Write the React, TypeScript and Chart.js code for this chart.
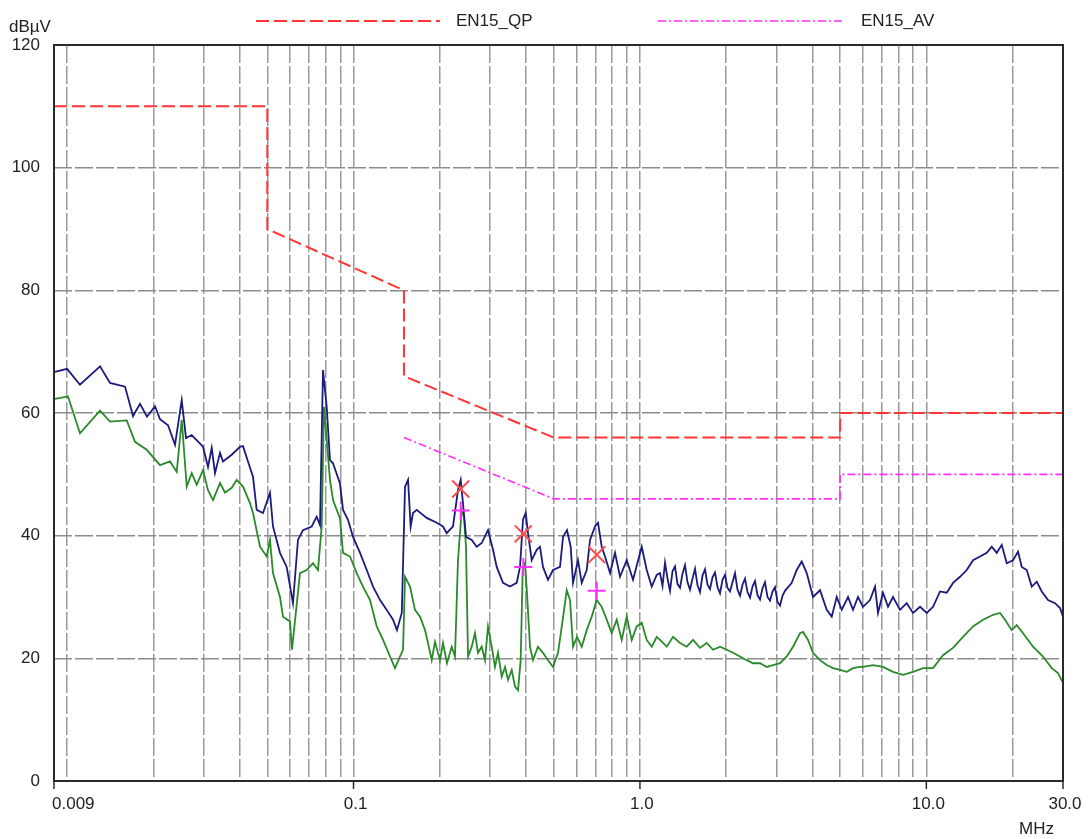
import { useEffect, useRef } from 'react';
import { Chart, registerables } from 'chart.js';

Chart.register(...registerables);

// ---------- data ----------
const qpLimitFreq = [0.009, 0.05, 0.05, 0.15, 0.15, 0.5, 5, 5, 30];
const qpLimitLevel = [110, 110, 90, 80, 66, 56, 56, 60, 60];
const avLimitFreq = [0.15, 0.5, 5, 5, 30];
const avLimitLevel = [56, 46, 46, 50, 50];

const qpMarkFreq = [0.2367, 0.3915, 0.7065];
const qpMarkLevel = [47.6, 40.3, 36.9];
const avMarkFreq = [0.2367, 0.3915, 0.7065];
const avMarkLevel = [44.1, 34.9, 31.0];

const gridFreq = [
  0.01, 0.02, 0.03, 0.04, 0.05, 0.06, 0.07, 0.08, 0.09,
  0.1, 0.2, 0.3, 0.4, 0.5, 0.6, 0.7, 0.8, 0.9,
  1, 2, 3, 4, 5, 6, 7, 8, 9,
  10, 20,
];
const xLabelFreq = [0.009, 0.1, 1, 10, 30];
const xLabelText = ['0.009', '0.1', '1.0', '10.0', '30.0'];
const yMin = 0;
const yMax = 120;
const yStep = 20;

const peakFreq = [
  0.00907, 0.0100, 0.01109, 0.01303, 0.01412, 0.01593, 0.01699, 0.01797, 0.01901, 0.02027,
  0.02110, 0.02251, 0.02381, 0.02513, 0.02601, 0.02723, 0.02982, 0.03104, 0.03198, 0.03284,
  0.03419, 0.03502, 0.03755, 0.04015, 0.04113, 0.04281, 0.04457, 0.04591, 0.04830, 0.05109,
  0.05234, 0.05537, 0.05843, 0.06146, 0.06398, 0.06661, 0.07145, 0.07438, 0.07638, 0.07824,
  0.08060, 0.08277, 0.08479, 0.08969,
  0.09190, 0.09567, 0.0996, 0.1054, 0.1112, 0.1170, 0.1238, 0.1306, 0.1374, 0.1418,
  0.1474, 0.1513, 0.1550, 0.1583, 0.1613, 0.1662, 0.1801, 0.1952, 0.2053, 0.2115,
  0.2225, 0.2316, 0.2367, 0.2411, 0.2470, 0.2586, 0.2692, 0.2803, 0.2948, 0.3069,
  0.3162, 0.3326, 0.3518, 0.3713, 0.3813, 0.3906, 0.3992, 0.4066, 0.4189, 0.4361,
  0.4478, 0.4587, 0.4776, 0.4972, 0.5260, 0.5389, 0.5564, 0.5732, 0.5839, 0.6079,
  0.6263, 0.6520, 0.6695, 0.6969, 0.7140, 0.7354, 0.7553, 0.7864, 0.8185, 0.8520,
  0.8993, 0.9460, 1.0145, 1.0561, 1.0995, 1.1446,
  1.1752, 1.1991, 1.2234, 1.2483, 1.2736, 1.2995, 1.3258, 1.3528, 1.3802, 1.4082,
  1.4368, 1.4660, 1.4957, 1.5261, 1.5571, 1.5887, 1.6209, 1.6538, 1.6874, 1.7217,
  1.7566, 1.7923, 1.8287, 1.8658, 1.9037, 1.9423, 1.9818, 2.0220, 2.0630, 2.1049,
  2.1476, 2.1912, 2.2357, 2.2811, 2.3274, 2.3746, 2.4228, 2.4720, 2.5222, 2.5734,
  2.6256, 2.6789, 2.7333, 2.7888, 2.8454, 2.9032, 2.9621, 3.0222, 3.0836, 3.1462,
  3.2100, 3.3882, 3.5271, 3.6718, 3.8224,
  4.0210, 4.2538, 4.4891, 4.6733, 4.8650, 5.0645, 5.3276, 5.5459, 5.7732, 6.0100,
  6.3579, 6.6186, 6.7800, 7.0581, 7.3476, 7.6490, 8.0917, 8.5393, 8.9830, 9.5071,
  10.032, 10.553, 11.163, 11.781, 12.393, 13.110, 13.836, 14.555, 15.397, 16.249,
  16.916, 17.610, 18.332, 19.083, 20.074, 20.899, 21.530, 22.414, 23.334, 24.291,
  25.288, 26.596, 28.136, 29.290, 30.0,
];
const peakLevel = [
  66.7, 67.2, 64.6, 67.6, 64.9, 64.3, 59.5, 61.5, 59.4, 61.1,
  59.0, 58.0, 54.8, 62.1, 55.9, 56.4, 54.5, 51.2, 54.3, 50.2,
  53.5, 52.1, 53.2, 54.5, 54.6, 52.1, 49.6, 44.2, 43.7, 47.0,
  41.5, 37.2, 34.9, 29.0, 39.3, 40.9, 41.5, 43.1, 41.7, 67.0,
  61.0, 52.3, 51.8, 48.5,
  44.2, 42.6, 39.8, 37.2, 34.4, 31.7, 29.5, 27.9, 26.3, 24.6,
  27.4, 48.0, 49.1, 41.5, 43.7, 44.2, 42.9, 42.1, 41.5, 40.4,
  41.5, 47.4, 49.1, 45.3, 39.8, 39.3, 38.2, 38.8, 40.9, 37.7,
  34.9, 32.3, 31.7, 32.3, 34.9, 42.6, 43.7, 40.4, 36.0, 37.7,
  38.2, 34.9, 32.8, 34.4, 34.9, 39.8, 40.9, 38.2, 32.3, 36.0,
  32.3, 34.4, 39.3, 41.5, 42.1, 38.2, 36.6, 33.9, 37.2, 33.3,
  36.0, 32.8, 38.2, 34.4, 31.7, 33.6,
  33.9, 31.8, 35.6, 33.0, 31.0, 34.2, 35.0, 32.1, 31.5, 33.8,
  35.2, 32.4, 31.2, 33.0, 34.6, 31.9, 30.8, 33.5, 34.5, 32.0,
  31.3, 33.2, 34.0, 31.6, 30.6, 32.8, 33.6, 31.5, 30.9, 32.4,
  33.9, 31.2, 30.2, 32.0, 33.0, 30.8, 29.9, 31.7, 32.6, 30.3,
  29.6, 31.4, 32.4, 30.0, 29.4, 30.9, 31.6, 29.2, 28.6, 30.2,
  31.0, 32.3, 34.4, 35.8, 33.9,
  30.0, 31.1, 27.9, 26.8, 30.0, 27.9, 30.0, 27.9, 30.0, 28.4,
  29.5, 31.7, 27.4, 30.7, 28.4, 30.0, 27.9, 29.0, 27.4, 28.4,
  27.4, 28.4, 30.9, 30.7, 32.3, 33.3, 34.4, 36.0, 36.6, 37.2,
  38.2, 37.2, 38.5, 35.5, 36.0, 37.4, 34.9, 34.4, 31.7, 32.5,
  30.9, 29.5, 29.0, 28.2, 26.8,
];

const avgFreq = [
  0.00907, 0.01007, 0.01109, 0.01303, 0.01412, 0.01615, 0.01726, 0.01897, 0.02110, 0.02287,
  0.02414, 0.02513, 0.02616, 0.02723, 0.02835, 0.02982, 0.03104, 0.03232, 0.03419, 0.03559,
  0.03755, 0.03910, 0.04113, 0.04350, 0.04457, 0.04715, 0.04975, 0.05109, 0.05234, 0.05537,
  0.05672, 0.06000, 0.06097, 0.06502, 0.06862, 0.07220, 0.07516, 0.07742, 0.07886, 0.08277,
  0.08479, 0.08969,
  0.09190, 0.09722, 0.1026, 0.1079, 0.1142, 0.1205, 0.1268, 0.1341, 0.1396, 0.1453,
  0.1489, 0.1513, 0.1575, 0.1639, 0.1707, 0.1777, 0.1820, 0.1875, 0.1925, 0.2004,
  0.2053, 0.2120, 0.2202, 0.2261, 0.2316, 0.2386, 0.2430, 0.2470, 0.2511, 0.2586,
  0.2655, 0.2720, 0.2803, 0.2878, 0.2948, 0.3037, 0.3118, 0.3195, 0.3292, 0.3380,
  0.3463, 0.3567, 0.3663, 0.3752, 0.3834, 0.3896, 0.3969, 0.4033, 0.4132, 0.4233,
  0.4406, 0.4587, 0.4776, 0.4972, 0.5176, 0.5376, 0.5551, 0.5700, 0.5839, 0.6031,
  0.6263, 0.6520, 0.6787, 0.7065, 0.7354, 0.7656, 0.7970, 0.8297, 0.8637, 0.8993,
  0.9362, 0.9745, 1.0145, 1.0561, 1.0995, 1.1446,
  1.1752, 1.2406, 1.3050, 1.3804, 1.4568, 1.5325, 1.6211, 1.7108, 1.7997, 1.9038,
  2.0091, 2.1135, 2.2358, 2.3597, 2.4823, 2.6260, 2.7713, 2.9154, 3.0842, 3.2547,
  3.4238, 3.6220, 3.7104, 3.8626, 4.0210, 4.2538, 4.4891, 4.7224, 4.9958, 5.2722,
  5.5459, 5.8669, 6.0100, 6.5130, 7.0581, 7.6490, 8.2891, 8.9830, 9.7387, 10.553,
  11.436, 12.393, 13.430, 14.555, 15.773, 17.094, 18.083, 18.824, 19.866, 20.681,
  21.757, 23.579, 25.553, 27.399, 28.823, 30.0,
];
const avgLevel = [
  62.3, 62.7, 56.7, 60.4, 58.6, 58.8, 55.3, 54.0, 51.5, 52.1,
  50.4, 58.9, 48.0, 50.2, 48.3, 50.7, 47.4, 45.8, 48.6, 47.0,
  47.8, 49.1, 48.0, 45.3, 43.7, 38.2, 36.6, 39.3, 33.9, 30.0,
  26.8, 26.0, 21.4, 33.9, 34.4, 35.5, 34.4, 41.5, 61.0, 49.1,
  45.8, 42.8,
  37.2, 36.6, 33.9, 31.7, 29.5, 25.2, 23.0, 20.3, 18.4, 20.3,
  21.4, 33.3, 31.7, 27.9, 26.8, 24.6, 22.5, 19.7, 22.7, 19.7,
  22.5, 19.2, 21.9, 20.3, 36.0, 44.2, 43.1, 38.2, 20.3, 21.9,
  24.1, 20.9, 21.9, 19.7, 25.2, 21.9, 18.6, 20.9, 17.0, 18.6,
  16.5, 18.1, 15.4, 14.8, 19.7, 34.4, 35.5, 30.7, 21.9, 19.7,
  21.9, 20.9, 19.7, 18.6, 20.9, 26.3, 31.1, 29.5, 21.9, 23.5,
  21.9, 24.6, 26.8, 29.5, 28.4, 26.3, 24.1, 26.3, 23.0, 26.8,
  23.0, 25.2, 25.8, 23.0, 21.9, 23.5,
  23.0, 21.9, 23.5, 22.5, 21.9, 23.0, 21.7, 22.5, 21.4, 21.9,
  21.4, 20.9, 20.3, 19.7, 19.2, 19.2, 18.6, 18.9, 19.2, 20.3,
  21.9, 24.1, 24.3, 23.0, 20.9, 19.7, 18.9, 18.4, 18.1, 17.8,
  18.4, 18.6, 18.6, 18.9, 18.6, 17.8, 17.3, 17.8, 18.4, 18.4,
  20.5, 21.7, 23.5, 25.2, 26.3, 27.1, 27.4, 26.3, 24.6, 25.4,
  24.1, 21.9, 20.3, 18.4, 17.6, 16.0,
];

// ---------- styles ----------
const FONT = '"Liberation Sans", Arial, Helvetica, sans-serif';
const TEXT_COLOR = '#222222';
const GRID_COLOR = '#9a9a9a';
const QP_COLOR = '#ff3535';
const AV_COLOR = '#ff30ff';
const QP_DASH = [13, 5];
const AV_DASH = [8, 3, 2, 3];

const pairs = (xs: number[], ys: number[]) => xs.map((x, i) => ({ x, y: ys[i] }));

const overlayPlugin = {
  id: 'emiOverlay',
  afterDraw(chart: any) {
    const { ctx, chartArea } = chart;
    const xs = chart.scales.x;
    const { left, top, right, bottom } = chartArea;
    ctx.save();
    // frame
    ctx.strokeStyle = '#2a2a2a';
    ctx.lineWidth = 2;
    ctx.setLineDash([]);
    ctx.strokeRect(left, top, right - left, bottom - top);
    // ticks + labels
    ctx.lineWidth = 1.5;
    ctx.font = `17px ${FONT}`;
    ctx.fillStyle = TEXT_COLOR;
    ctx.textBaseline = 'middle';
    xLabelFreq.forEach((f, i) => {
      const px = xs.getPixelForValue(f);
      ctx.beginPath();
      ctx.moveTo(px, bottom);
      ctx.lineTo(px, bottom + 8);
      ctx.stroke();
      ctx.textAlign = i === 0 ? 'left' : 'center';
      ctx.fillText(xLabelText[i], i === 0 ? px - 2 : px + 2, bottom + 23);
    });
    ctx.textAlign = 'left';
    ctx.fillText('MHz', right - 44, bottom + 48);
    ctx.fillText('dB\u00b5V', 9, 27);
    // legend
    const ly = 21;
    ctx.lineWidth = 2;
    ctx.strokeStyle = QP_COLOR;
    ctx.setLineDash(QP_DASH);
    ctx.beginPath();
    ctx.moveTo(256, ly);
    ctx.lineTo(440, ly);
    ctx.stroke();
    ctx.strokeStyle = AV_COLOR;
    ctx.lineWidth = 1.6;
    ctx.setLineDash(AV_DASH);
    ctx.beginPath();
    ctx.moveTo(658, ly);
    ctx.lineTo(842, ly);
    ctx.stroke();
    ctx.setLineDash([]);
    ctx.fillText('EN15_QP', 456, ly);
    ctx.fillText('EN15_AV', 861, ly);
    ctx.restore();
  },
};

export default function App() {
  const canvasRef = useRef<HTMLCanvasElement | null>(null);

  useEffect(() => {
    document.body.style.margin = '0';
    const canvas = canvasRef.current;
    if (!canvas) return;
    Chart.defaults.font.family = FONT;
    const chart = new Chart(canvas, {
      type: 'line',
      data: {
        datasets: [
          {
            type: 'scatter',
            label: 'QP marks',
            data: pairs(qpMarkFreq, qpMarkLevel),
            pointStyle: 'crossRot',
            pointRadius: 12,
            pointBorderWidth: 2,
            borderColor: '#ff4a4a',
            backgroundColor: '#ff4a4a',
            showLine: false,
            order: 0,
          } as any,
          {
            type: 'scatter',
            label: 'AV marks',
            data: pairs(avMarkFreq, avMarkLevel),
            pointStyle: 'cross',
            pointRadius: 9,
            pointBorderWidth: 2,
            borderColor: AV_COLOR,
            backgroundColor: AV_COLOR,
            showLine: false,
            order: 0,
          } as any,
          {
            label: 'EN15_QP',
            data: pairs(qpLimitFreq, qpLimitLevel),
            borderColor: QP_COLOR,
            borderWidth: 2,
            borderDash: QP_DASH,
            pointRadius: 0,
            tension: 0,
            fill: false,
            order: 1,
          },
          {
            label: 'EN15_AV',
            data: pairs(avLimitFreq, avLimitLevel),
            borderColor: AV_COLOR,
            borderWidth: 1.6,
            borderDash: AV_DASH,
            pointRadius: 0,
            tension: 0,
            fill: false,
            order: 1,
          },
          {
            label: 'Peak',
            data: pairs(peakFreq, peakLevel),
            borderColor: '#1b1b7e',
            borderWidth: 1.8,
            pointRadius: 0,
            tension: 0,
            fill: false,
            order: 2,
          },
          {
            label: 'Average',
            data: pairs(avgFreq, avgLevel),
            borderColor: '#2a8a2a',
            borderWidth: 1.8,
            pointRadius: 0,
            tension: 0,
            fill: false,
            order: 2,
          },
        ],
      },
      options: {
        animation: false,
        responsive: false,
        devicePixelRatio: 1,
        layout: { padding: { top: 45, right: 28, left: 0, bottom: 0 } },
        plugins: {
          legend: { display: false },
          tooltip: { enabled: false },
          title: { display: false },
        },
        scales: {
          x: {
            type: 'logarithmic',
            min: 0.009,
            max: 30,
            afterBuildTicks: (scale: any) => {
              scale.ticks = gridFreq.map((v) => ({ value: v }));
            },
            afterFit: (scale: any) => {
              scale.height = 58;
            },
            ticks: { display: false },
            grid: {
              color: GRID_COLOR,
              lineWidth: 1.5,
              drawTicks: false,
            },
            border: { display: false, dash: [18, 3] },
          },
          y: {
            type: 'linear',
            min: yMin,
            max: yMax,
            afterFit: (scale: any) => {
              scale.width = 54;
            },
            ticks: {
              stepSize: yStep,
              padding: 14,
              color: TEXT_COLOR,
              font: { size: 17, family: FONT },
            },
            grid: {
              color: (c: any) =>
                c.tick && (c.tick.value === yMin || c.tick.value === yMax)
                  ? 'rgba(0,0,0,0)'
                  : '#8c8c8c',
              lineWidth: 1.5,
              drawTicks: false,
            },
            border: { display: false, dash: [18, 3] },
          },
        },
      } as any,
      plugins: [overlayPlugin],
    });
    return () => chart.destroy();
  }, []);

  return (
    <div style={{ width: 1091, height: 839, position: 'relative', background: '#fff' }}>
      <canvas ref={canvasRef} width={1091} height={839} />
    </div>
  );
}
